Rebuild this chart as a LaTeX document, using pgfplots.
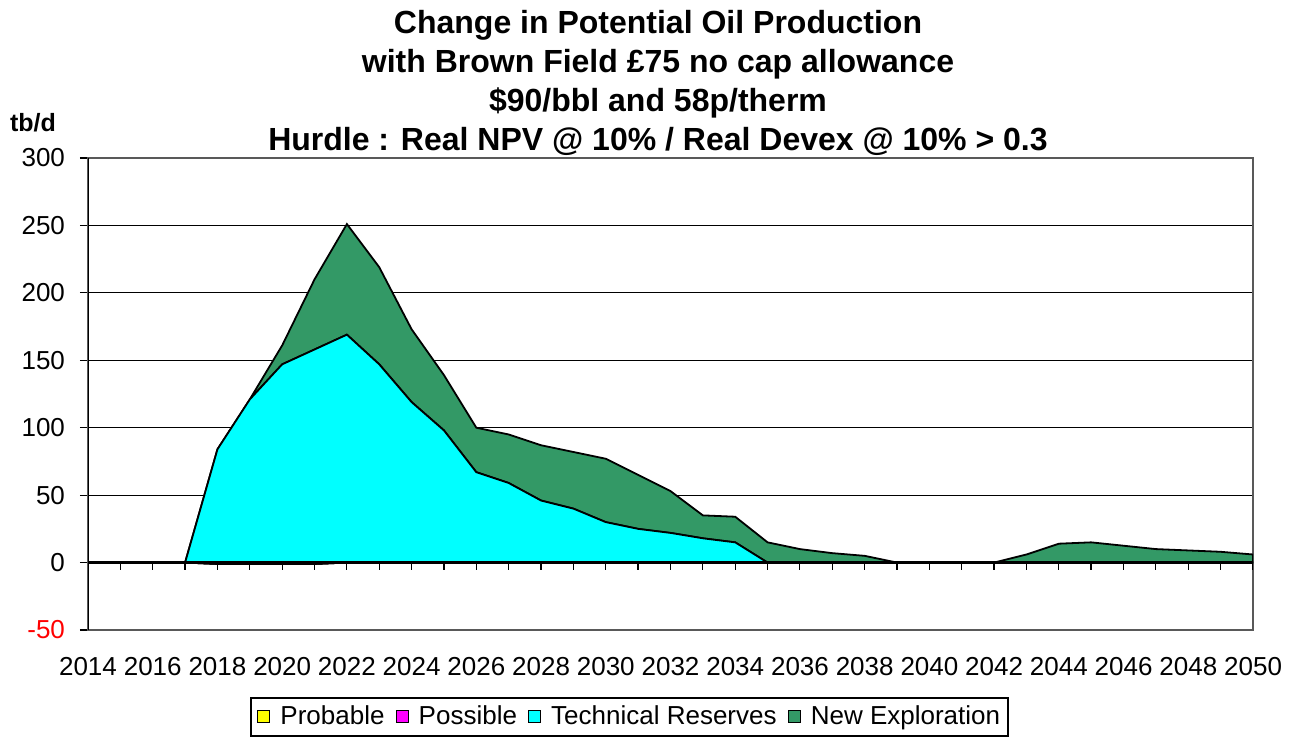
\documentclass[border=0pt]{standalone}
\usepackage{pgfplots}
\usepackage{pgfplotstable}
\pgfplotsset{compat=1.18}
\usepackage{fontspec}
\setmainfont{Liberation Sans}

\definecolor{newexp}{RGB}{51,153,102}
\definecolor{techres}{RGB}{0,255,255}
\definecolor{possib}{RGB}{255,0,255}
\definecolor{probab}{RGB}{255,255,0}

% year, probable, possible, technical reserves, new exploration (tb/d)
\pgfplotstableread{
year prob poss tech newexp
2014 0 0 0 0
2015 0 0 0 0
2016 0 0 0 0
2017 0 0 0 0
2018 -1 0 85 0
2019 -1 0 122 0
2020 -1 0 148 14
2021 -1 0 159 52
2022 0 0 169 82
2023 0 0 147 72
2024 0 0 119 54
2025 0 0 98 41
2026 0 0 67 33
2027 0 0 59 36
2028 0 0 46 41
2029 0 0 40 42
2030 0 0 30 47
2031 0 0 25 40
2032 0 0 22 31
2033 0 0 18 17
2034 0 0 15 19
2035 0 0 0 15
2036 0 0 0 10
2037 0 0 0 7
2038 0 0 0 5
2039 0 0 0 0
2040 0 0 0 0
2041 0 0 0 0
2042 0 0 0 0
2043 0 0 0 6
2044 0 0 0 14
2045 0 0 0 15
2046 0 0 0 12.5
2047 0 0 0 10
2048 0 0 0 9
2049 0 0 0 8
2050 0 0 0 6
}\prodtable

\begin{document}
\begin{tikzpicture}
\path[use as bounding box] (0pt,0pt) rectangle (648pt,368pt);

\begin{axis}[
    at={(44pt,53pt)}, anchor=south west,
    scale only axis, width=582.5pt, height=236pt,
    xmin=2014, xmax=2050, ymin=-50, ymax=300,
    stack plots=y,
    xtick={2014,2016,...,2050},
    ytick={-50,0,...,300},
    yticklabels={{\textcolor{red}{-50}},0,50,100,150,200,250,300},
    /pgf/number format/1000 sep={},
    /pgf/number format/assume math mode=true,
    tick label style={font=\fontsize{13}{15}\selectfont},
    xticklabel style={yshift=-6pt},
    yticklabel style={xshift=-4pt},
    ytick pos=left,
    tick align=outside,
    xtick style={draw=none},
    ytick style={black, line width=0.6pt},
    major tick length=4pt,
    ymajorgrids,
    grid style={black, line width=0.6pt},
    axis line style={gray!70!black, line width=0.8pt},
    legend columns=4,
    legend style={at={(0.465,-0.184)}, anchor=center, draw=black,
        line width=0.8pt, font=\fontsize{13}{15}\selectfont,
        inner xsep=3pt, inner ysep=2pt,
        nodes={inner xsep=1pt},
        /tikz/every odd column/.append style={column sep=4pt},
        /tikz/every even column/.append style={column sep=4.5pt}},
    legend image code/.code={\draw[#1, draw=black, line width=0.6pt] (0pt,-3pt) rectangle (6pt,3pt);},
    every axis plot/.append style={draw=black, line width=0.9pt},
]
\addplot[fill=probab] table[x=year, y=prob] {\prodtable} \closedcycle;
\addlegendentry{Probable}
\addplot[fill=possib] table[x=year, y=poss] {\prodtable} \closedcycle;
\addlegendentry{Possible}
\addplot[fill=techres] table[x=year, y=tech] {\prodtable} \closedcycle;
\addlegendentry{Technical Reserves}
\addplot[fill=newexp] table[x=year, y=newexp] {\prodtable} \closedcycle;
\addlegendentry{New Exploration}
\draw[black, line width=0.8pt] (rel axis cs:0,0) -- (rel axis cs:0,1);
\end{axis}

% year ticks along the zero line
\begin{axis}[
    at={(44pt,53pt)}, anchor=south west,
    scale only axis, width=582.5pt, height=236pt,
    xmin=2014, xmax=2050, ymin=-50, ymax=300,
    hide y axis,
    axis x line=middle,
    axis line style={-, black, line width=1.2pt},
    xtick={2014,...,2050},
    xticklabels={},
    tick align=outside,
    major tick length=3.5pt,
    xtick style={black, line width=0.6pt},
]
\end{axis}

\node[font=\bfseries\fontsize{16}{19.5}\selectfont, align=center, inner sep=0pt]
    at (329pt,326.5pt) {Change in Potential Oil Production\\
    with Brown Field £75 no cap allowance\\
    \$90/bbl and 58p/therm\\
    Hurdle : Real NPV @ 10\% / Real Devex @ 10\% > 0.3};
\node[font=\bfseries\fontsize{12.5}{14}\selectfont, inner sep=0pt] at (16.5pt,306.5pt) {tb/d};
\end{tikzpicture}
\end{document}
